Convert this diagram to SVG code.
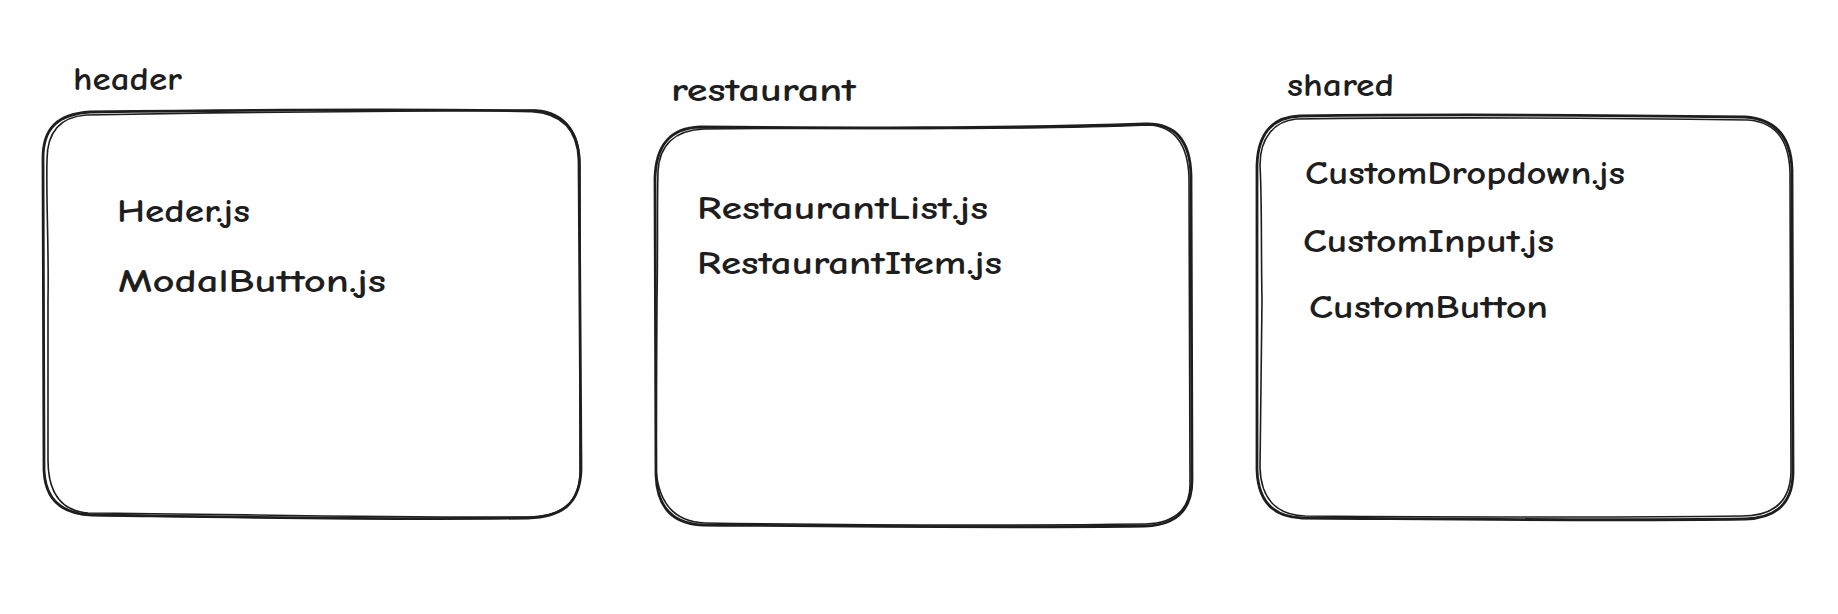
<svg xmlns="http://www.w3.org/2000/svg" width="1838" height="614" viewBox="0 0 1838 614">
<style>
.b{fill:none;stroke:#1e1e1e;stroke-width:2.8;stroke-linecap:round;stroke-linejoin:round}
.b2{fill:none;stroke:#1e1e1e;stroke-width:1.6;stroke-linecap:round;stroke-linejoin:round}
.t{font-family:"Comic Neue","Noto Sans","Liberation Sans",sans-serif;font-size:32px;font-weight:bold;fill:#1e1e1e}
</style>
<rect width="1838" height="614" fill="#ffffff"/>
<g id="connectors"></g>
<g id="header">
<path class="b" d="M 90,112 C 250,110 400,109 532,111 C 565,113 578,132 579,160 L 581,470 C 580,502 564,517 528,518 C 380,520 230,517 92,515 C 60,514 45,498 44,470 L 43,158 C 43,128 58,114 90,112 Z"/>
<path class="b2" d="M 86,115 C 240,112 410,110 536,110 C 566,112 580,134 580,165 L 580,468 C 581,500 566,516 530,517 C 380,518 230,514 88,513 C 62,511 48,494 48,460 L 48,300 C 49,250 46,200 47,160 C 47,132 60,117 86,115 Z"/>
<text class="t" x="73" y="90" textLength="109" lengthAdjust="spacingAndGlyphs">header</text>
<text class="t" x="117" y="222" textLength="133" lengthAdjust="spacingAndGlyphs">Heder.js</text>
<text class="t" x="118" y="292" textLength="268" lengthAdjust="spacingAndGlyphs">ModalButton.js</text>
</g>
<g id="restaurant">
<path class="b" d="M 700,127 C 850,128 1000,129 1145,124 C 1175,123 1190,140 1191,175 L 1192,480 C 1192,510 1177,525 1145,526 C 1000,528 850,526 703,525 C 672,524 657,506 656,475 L 655,178 C 656,145 670,128 700,127 Z"/>
<path class="b2" d="M 704,129 C 860,127 1010,131 1148,125 C 1176,126 1188,145 1189,178 L 1190,482 C 1191,508 1176,523 1146,524 C 990,526 840,525 705,523 C 676,522 659,505 656,470 L 657,300 C 658,250 657,200 658,172 C 659,145 675,130 704,129 Z"/>
<text class="t" x="671" y="101" textLength="185" lengthAdjust="spacingAndGlyphs">restaurant</text>
<text class="t" x="697" y="219" textLength="291" lengthAdjust="spacingAndGlyphs">RestaurantList.js</text>
<text class="t" x="697" y="274" textLength="305" lengthAdjust="spacingAndGlyphs">RestaurantItem.js</text>
</g>
<g id="shared">
<path class="b" d="M 1300,116 C 1450,114 1600,115 1745,117 C 1775,119 1791,136 1792,170 L 1793,472 C 1793,503 1777,518 1745,519 C 1600,521 1450,519 1302,518 C 1272,517 1258,500 1257,470 L 1257,165 C 1258,134 1272,117 1300,116 Z"/>
<path class="b2" d="M 1296,119 C 1450,117 1610,118 1748,120 C 1776,122 1789,140 1790,172 L 1791,470 C 1791,500 1776,516 1742,516 C 1600,518 1450,517 1305,516 C 1276,515 1261,498 1260,468 L 1262,300 C 1261,250 1262,200 1260,165 C 1260,137 1275,121 1296,119 Z"/>
<text class="t" x="1287" y="96" textLength="107" lengthAdjust="spacingAndGlyphs">shared</text>
<text class="t" x="1305" y="184" textLength="320" lengthAdjust="spacingAndGlyphs">CustomDropdown.js</text>
<text class="t" x="1303" y="252" textLength="251" lengthAdjust="spacingAndGlyphs">CustomInput.js</text>
<text class="t" x="1309" y="318" textLength="239" lengthAdjust="spacingAndGlyphs">CustomButton</text>
</g>
</svg>
